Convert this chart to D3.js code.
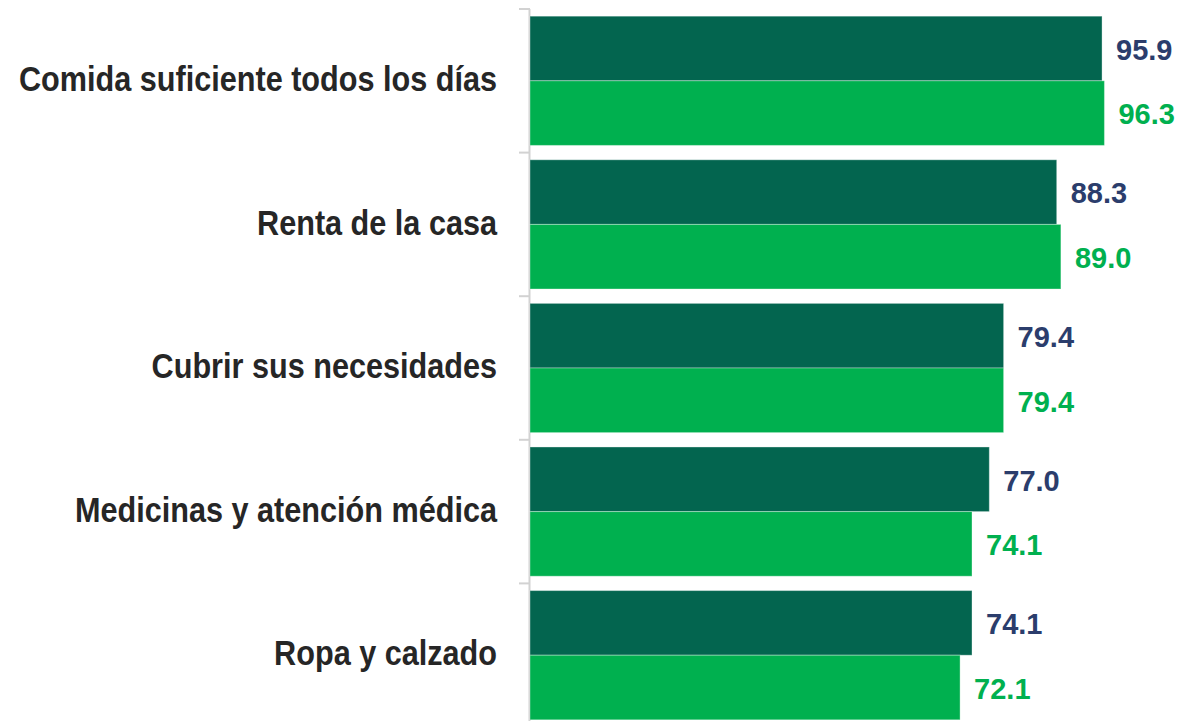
<!DOCTYPE html>
<html>
<head>
<meta charset="utf-8">
<script src="https://cdn.jsdelivr.net/npm/d3@7"></script>
<style>
  body { margin: 0; background: #fff; }
  svg { display: block; }
</style>
</head>
<body>
<script>
// categories and series values
var categories = [
	"Comida suficiente todos los días",
	"Renta de la casa",
	"Cubrir sus necesidades",
	"Medicinas y atención médica",
	"Ropa y calzado"
];
var seriesA = [95.9, 88.3, 79.4, 77.0, 74.1];
var seriesB = [96.3, 89.0, 79.4, 74.1, 72.1];
var seriesNames = ["a", "b"];

var width = 1179,
	height = 721;

var barColors = ["#03654f", "#00b04f"],
	labelColors = ["#2b3d6c", "#00b04f"];

// no narrow font installed, so squeeze the bold sans a little
var labelFont = "'Liberation Sans Narrow', 'Arial Narrow', 'Liberation Sans', Arial, sans-serif",
	labelSqueeze = 0.875,
	labelRight = 497;

var svg = d3.select("body").append("svg")
	.attr("width", width)
	.attr("height", height);

var x = d3.scaleLinear()
	.domain([0, 100])
	.range([530, 1126.5]);

// the last category runs off the bottom of the picture
var y = d3.scaleBand()
	.domain(categories)
	.range([9, 727])
	.paddingInner(0.1)
	.paddingOuter(0.05);

var y1 = d3.scaleBand()
	.domain(seriesNames)
	.range([0, y.bandwidth()]);

var rows = categories.map(function (c, i) {
	return { name: c, values: [seriesA[i], seriesB[i]] };
});

// axis line with ticks on category boundaries
var step = y.step();
var bounds = categories.map(function (c) { return y(c) - y.paddingInner() * step / 2; });
bounds.push(bounds[bounds.length - 1] + step);

svg.append("line")
	.attr("x1", x(0) - 0.5).attr("x2", x(0) - 0.5)
	.attr("y1", bounds[0]).attr("y2", height)
	.attr("stroke", "#d2d2d2")
	.attr("stroke-width", 2);

svg.selectAll("line.tick")
	.data(bounds)
	.enter()
	.append("line")
	.attr("class", "tick")
	.attr("x1", x(0) - 11).attr("x2", x(0))
	.attr("y1", function (d) { return d; })
	.attr("y2", function (d) { return d; })
	.attr("stroke", "#d2d2d2")
	.attr("stroke-width", 2);

var group = svg.selectAll("g.cat")
	.data(rows)
	.enter()
	.append("g")
	.attr("class", "cat")
	.attr("transform", function (d) { return "translate(0," + y(d.name) + ")"; });

group.append("text")
	.text(function (d) { return d.name; })
	.attr("transform", "translate(" + labelRight + "," + (y.bandwidth() / 2) + ") scale(" + labelSqueeze + ",1)")
	.attr("dy", "0.29em")
	.attr("text-anchor", "end")
	.attr("font-family", labelFont)
	.attr("font-weight", "bold")
	.attr("font-size", "35px")
	.attr("fill", "#262626");

var bar = group.selectAll("g.bar")
	.data(function (d) {
		return d.values.map(function (v, j) { return { key: seriesNames[j], value: v, idx: j }; });
	})
	.enter()
	.append("g")
	.attr("class", "bar");

bar.append("rect")
	.attr("x", x(0))
	.attr("y", function (d) { return y1(d.key); })
	.attr("width", function (d) { return x(d.value) - x(0); })
	.attr("height", y1.bandwidth())
	.attr("fill", function (d) { return barColors[d.idx]; })
	.attr("stroke", "#ffffff")
	.attr("stroke-opacity", 0.35)
	.attr("stroke-width", 1);

bar.append("text")
	.text(function (d) { return d3.format(".1f")(d.value); })
	.attr("x", function (d) { return x(d.value) + 14; })
	.attr("y", function (d) { return y1(d.key) + y1.bandwidth() / 2; })
	.attr("dy", "0.39em")
	.attr("font-family", "'Liberation Sans', Arial, sans-serif")
	.attr("font-weight", "bold")
	.attr("font-size", "29px")
	.attr("fill", function (d) { return labelColors[d.idx]; });
</script>
</body>
</html>
